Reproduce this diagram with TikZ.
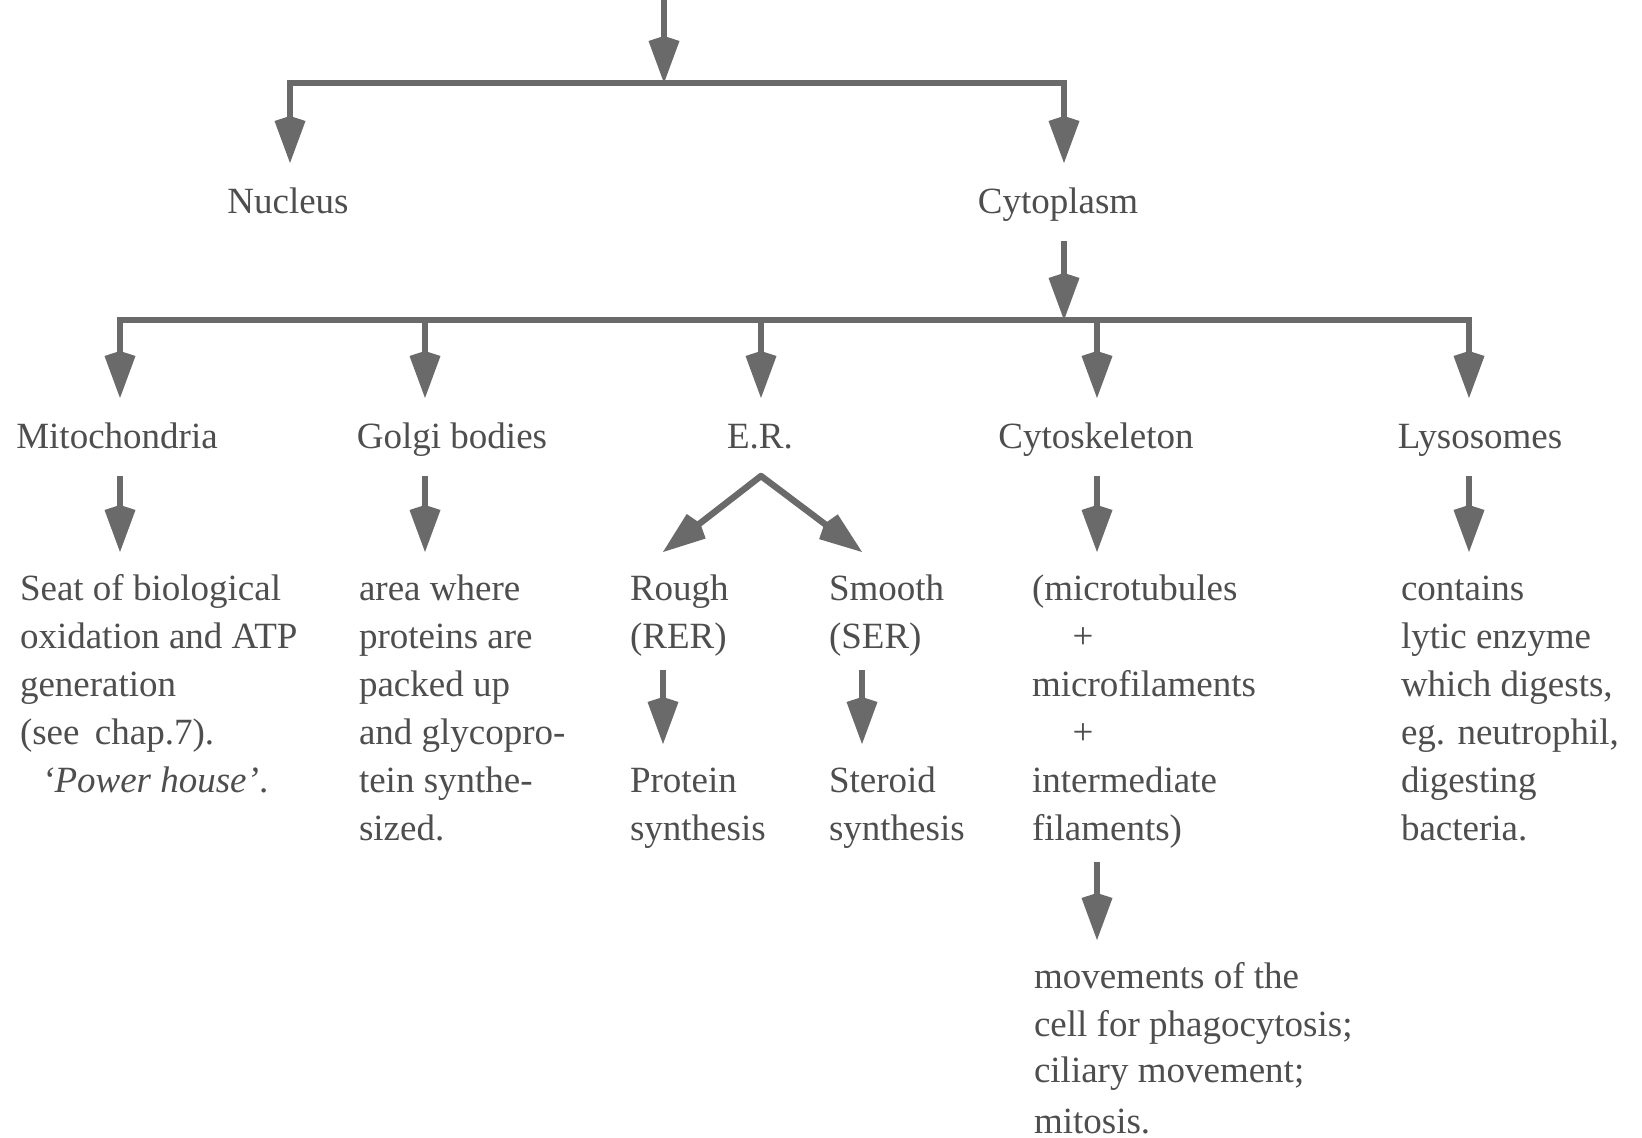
\documentclass[tikz,border=0pt]{standalone}
\usepackage{fontspec}
\setmainfont{Liberation Serif}
\usetikzlibrary{arrows.meta,calc}
\definecolor{ink}{HTML}{4E4E4E}
\definecolor{linec}{HTML}{6A6A6A}
\begin{document}
\begin{tikzpicture}[x=0.5pt,y=-0.5pt,
  every node/.style={text=ink, font=\fontsize{18.5}{24}\selectfont},
  lab/.style={inner sep=0pt, outer xsep=0pt, outer ysep=13.5pt, text height=12pt, text depth=0pt, anchor=base},
  blk/.style={align=left, inner sep=0pt, outer xsep=0pt, outer ysep=7.2pt, anchor=north west},
  ln/.style={draw=linec, line width=3.2pt, line cap=rect},
  tip/.tip={Kite[length=23.5pt,width=15.5pt,inset=2.5pt]},
  arr/.style={draw=linec, line width=2.8pt, -tip},
  darr/.style={draw=linec, line width=3.2pt, line join=round, tip-tip}
]
\useasboundingbox[fill=white] (0,0) rectangle (1642,1138);

% coordinates of the buses and columns
\coordinate (topS) at (664,0);
\coordinate (topJ) at (664,83);
\coordinate (nucC) at (290,83);
\coordinate (cytC) at (1064,83);
\coordinate (bus2) at (1064,320);
\coordinate (cM) at (120,320);
\coordinate (cG) at (425,320);
\coordinate (cE) at (761,320);
\coordinate (cC) at (1097,320);
\coordinate (cL) at (1469,320);
\coordinate (cR) at (663,552);
\coordinate (cS) at (862,552);

% level 1 labels
\node[lab] (Nucleus) at (288,214) {Nucleus};
\node[lab] (Cytoplasm) at (1058,214) {Cytoplasm};

% level 2 labels
\node[lab] (Mito) at (117,449) {Mitochondria};
\node[lab] (Golgi) at (452,449) {Golgi bodies};
\node[lab] (ER) at (760,449) {E.R.};
\node[lab] (Cytosk) at (1096,449) {Cytoskeleton};
\node[lab] (Lyso) at (1480,449) {Lysosomes};

% text blocks
\node[blk] (Seat) at (20,552) {\strut Seat of biological\\oxidation and ATP\\generation\\(see\ \,chap.7).\\\hspace*{0.6em}\textit{`Power house'}.};
\node[blk] (Area) at (359,552) {\strut area where\\proteins are\\packed up\\and glycopro-\\tein synthe-\\sized.};
\node[blk] (Rough) at (630,552) {\strut Rough\\(RER)};
\node[blk] (Smooth) at (829,552) {\strut Smooth\\(SER)};
\node[blk] (Protein) at (630,744) {\strut Protein\\synthesis};
\node[blk] (Steroid) at (829,744) {\strut Steroid\\synthesis};
\node[blk] (Micro) at (1032,552) {\strut(microtubules\\\hspace*{1.1em}+\\microfilaments\\\hspace*{1.1em}+\\intermediate\\filaments)};
\node[blk] (Contains) at (1401,552) {\strut contains\\lytic enzyme\\which digests,\\eg. neutrophil,\\digesting\\bacteria.};
\node[blk] (Move) at (1034,940) {\strut movements of the\\cell for phagocytosis;\\[-1pt]ciliary movement;\\[1.5pt]mitosis.};

% top level
\draw[arr] (topS) -- (topJ);
\draw[ln] (nucC) -- (cytC);
\draw[arr] (nucC) -- (nucC |- Nucleus.north);
\draw[arr] (cytC) -- (cytC |- Cytoplasm.north);

% cytoplasm to bus 2
\draw[arr] (Cytoplasm.south -| bus2) -- (bus2);
\draw[ln] (cM) -- (cL);
\foreach \c/\n in {cM/Mito, cG/Golgi, cE/ER, cC/Cytosk, cL/Lyso}
  \draw[arr] (\c) -- (\c |- \n.north);

% level 2 to text
\draw[arr] (cM |- Mito.south) -- (cM |- Seat.north);
\draw[arr] (cG |- Golgi.south) -- (cG |- Area.north);
\draw[arr] (cC |- Cytosk.south) -- (cC |- Micro.north);
\draw[arr] (cL |- Lyso.south) -- (cL |- Contains.north);

% E.R. branches
\draw[darr] (cR |- Rough.north) -- (cE |- ER.south) -- (cS |- Smooth.north);
\draw[arr] (cR |- Rough.south) -- (cR |- Protein.north);
\draw[arr] (cS |- Smooth.south) -- (cS |- Steroid.north);

% cytoskeleton function
\draw[arr] (cC |- Micro.south) -- (cC |- Move.north);
\end{tikzpicture}
\end{document}
